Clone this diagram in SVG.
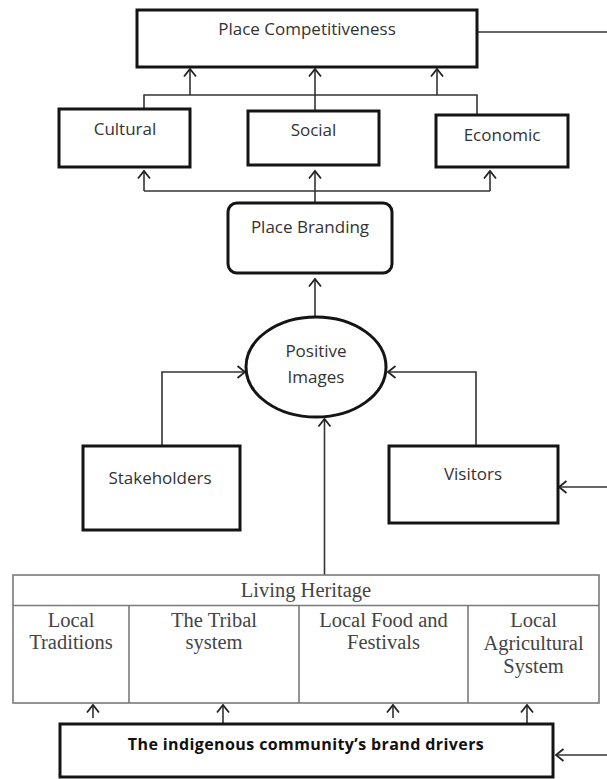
<svg xmlns="http://www.w3.org/2000/svg" width="607" height="779" viewBox="0 0 607 779">
<style>
.box{fill:#fff;stroke:#141414;stroke-width:3}
.tbl{fill:none;stroke:#7a7a7a;stroke-width:1.6}
.con{fill:none;stroke:#333;stroke-width:1.6}
.lbl{font-family:"Open Sans","Liberation Sans",sans-serif;font-size:17px;fill:#333;text-anchor:middle}
.ser{font-family:"Liberation Serif","Times New Roman",serif;font-size:20.5px;fill:#444;text-anchor:middle}
.bold{font-family:"Open Sans","Liberation Sans",sans-serif;font-size:16px;letter-spacing:0.4px;font-weight:bold;fill:#111;text-anchor:middle}
</style>
<defs>
<marker id="arr" viewBox="-10 -8 12 16" refX="0" refY="0" markerWidth="12" markerHeight="16" markerUnits="userSpaceOnUse" orient="auto">
<path d="M-7.5,-6 L0,0 L-7.5,6" fill="none" stroke="#222" stroke-width="1.8"/>
</marker>
</defs>
<rect width="607" height="779" fill="#fff"/>
<g id="connectors">
<line class="con" x1="477" y1="32" x2="607" y2="32"/>
<path class="con" d="M144,109 V95 H477 V115"/>
<line class="con" x1="190" y1="95" x2="190" y2="69" marker-end="url(#arr)"/>
<line class="con" x1="315" y1="111" x2="315" y2="69" marker-end="url(#arr)"/>
<line class="con" x1="437" y1="95" x2="437" y2="69" marker-end="url(#arr)"/>
<path class="con" d="M144,191 H490"/>
<line class="con" x1="144" y1="191" x2="144" y2="171" marker-end="url(#arr)"/>
<line class="con" x1="315" y1="203" x2="315" y2="171" marker-end="url(#arr)"/>
<line class="con" x1="490" y1="191" x2="490" y2="171" marker-end="url(#arr)"/>
<line class="con" x1="315" y1="317" x2="315" y2="279" marker-end="url(#arr)"/>
<path class="con" d="M162,446 V372 H245" marker-end="url(#arr)"/>
<path class="con" d="M476,446 V372 H388" marker-end="url(#arr)"/>
<line class="con" x1="607" y1="487" x2="559" y2="487" marker-end="url(#arr)"/>
<line class="con" x1="324.5" y1="575" x2="324.5" y2="419" marker-end="url(#arr)"/>
<line class="con" x1="93" y1="718" x2="93" y2="705" marker-end="url(#arr)"/>
<line class="con" x1="223" y1="724" x2="223" y2="705" marker-end="url(#arr)"/>
<line class="con" x1="393" y1="718" x2="393" y2="705" marker-end="url(#arr)"/>
<line class="con" x1="527" y1="724" x2="527" y2="705" marker-end="url(#arr)"/>
<line class="con" x1="607" y1="755" x2="556" y2="755" marker-end="url(#arr)"/>
</g>
<g id="place-competitiveness">
<rect class="box" x="137" y="10" width="340" height="57"/>
<text class="lbl" x="307" y="35">Place Competitiveness</text>
</g>
<g id="cultural">
<rect class="box" x="59" y="109" width="131" height="58"/>
<text class="lbl" x="125" y="135">Cultural</text>
</g>
<g id="social">
<rect class="box" x="248" y="111" width="131" height="54"/>
<text class="lbl" x="313.5" y="136">Social</text>
</g>
<g id="economic">
<rect class="box" x="436" y="115" width="132" height="52"/>
<text class="lbl" x="502" y="141">Economic</text>
</g>
<g id="place-branding">
<rect class="box" x="228" y="203" width="164" height="70" rx="9"/>
<text class="lbl" x="310" y="233">Place Branding</text>
</g>
<g id="positive-images">
<ellipse class="box" cx="316" cy="367" rx="70" ry="50"/>
<text class="lbl" x="316" y="357">Positive</text>
<text class="lbl" x="316" y="383">Images</text>
</g>
<g id="stakeholders">
<rect class="box" x="83" y="446" width="157" height="84"/>
<text class="lbl" x="160" y="484">Stakeholders</text>
</g>
<g id="visitors">
<rect class="box" x="389" y="446" width="169" height="77"/>
<text class="lbl" x="473" y="480">Visitors</text>
</g>
<g id="living-heritage">
<rect class="tbl" x="13" y="575" width="586" height="128"/>
<line class="tbl" x1="13" y1="605.5" x2="599" y2="605.5"/>
<line class="tbl" x1="129" y1="605.5" x2="129" y2="703"/>
<line class="tbl" x1="299" y1="605.5" x2="299" y2="703"/>
<line class="tbl" x1="468" y1="605.5" x2="468" y2="703"/>
<text class="ser" x="306" y="597">Living Heritage</text>
<text class="ser" x="71" y="627">Local</text>
<text class="ser" x="71" y="649">Traditions</text>
<text class="ser" x="214" y="627">The Tribal</text>
<text class="ser" x="214" y="649">system</text>
<text class="ser" x="383.5" y="627">Local Food and</text>
<text class="ser" x="383.5" y="649">Festivals</text>
<text class="ser" x="533.5" y="627">Local</text>
<text class="ser" x="533.5" y="650">Agricultural</text>
<text class="ser" x="533.5" y="673">System</text>
</g>
<g id="brand-drivers">
<rect class="box" x="60" y="724" width="493" height="53"/>
<text class="bold" x="306" y="750">The indigenous community’s brand drivers</text>
</g>
</svg>
